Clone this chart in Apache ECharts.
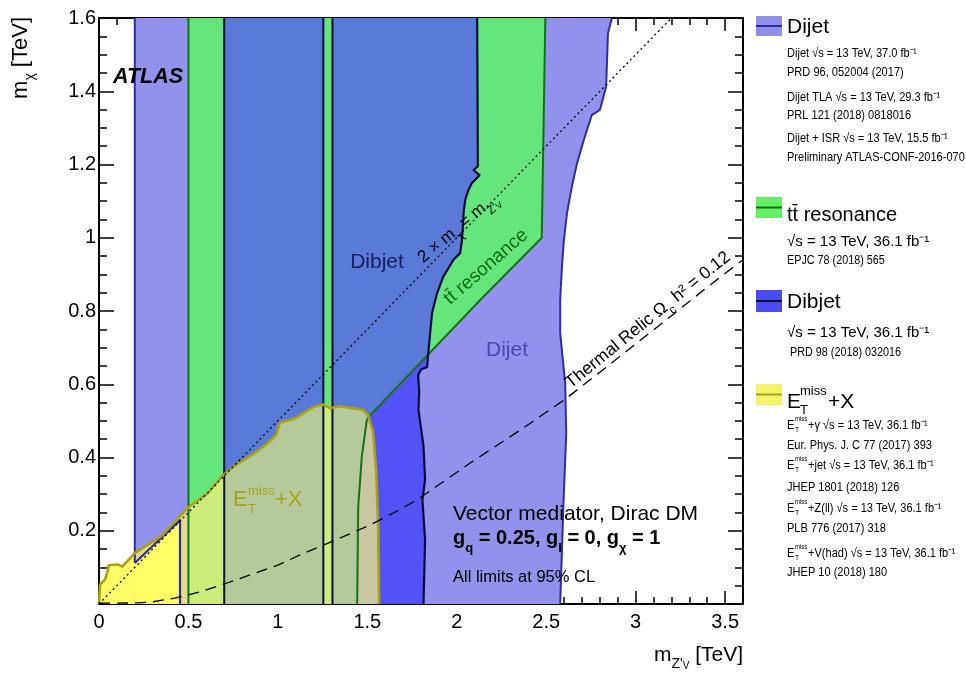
<!DOCTYPE html>
<html><head><meta charset="utf-8">
<script src="https://cdn.jsdelivr.net/npm/echarts@6/dist/echarts.min.js"></script>
<style>html,body{margin:0;padding:0;background:#fff}#c{width:966px;height:673px}</style>
</head><body><div id="c"></div>
<script>
// ---------------- data (TeV) ----------------
const xTickValues = [0, 0.5, 1, 1.5, 2, 2.5, 3, 3.5];
const xTickLabels = ['0', '0.5', '1', '1.5', '2', '2.5', '3', '3.5'];
const yTickValues = [0.2, 0.4, 0.6, 0.8, 1.0, 1.2, 1.4, 1.6];
const yTickLabels = ['0.2', '0.4', '0.6', '0.8', '1', '1.2', '1.4', '1.6'];

// Dijet (37 fb-1) excluded region, right boundary
const dijetRight = [[2.867,1.6],[2.845,1.558],[2.835,1.412],[2.80,1.349],[2.755,1.335],[2.71,1.267],[2.672,1.203],[2.643,1.139],[2.616,1.067],[2.598,0.99],[2.588,0.921],[2.578,0.83],[2.578,0.74],[2.606,0.603],[2.612,0.467],[2.597,0.284],[2.588,0.147],[2.578,0]];
const dijetMain = [[1.5,0],[1.5,1.6]].concat(dijetRight);
// Dijet + ISR / TLA strip
const dijetStrip = [[0.2,1.6],[0.5,1.6],[0.5,0],[0.453,0],[0.453,0.229],[0.21,0.111],[0.2,0.112]];
const dijetStripEdge = [[0.2,1.6],[0.2,0.112]];
const dijetTLA = [[0.2,0.112],[0.21,0.111],[0.453,0.229],[0.453,0]];
// ttbar resonance
const ttLeft = [[0.5,0],[0.5,1.6]];
const ttRight = [[2.495,1.6],[2.475,1.0],[2.131,0.83],[1.505,0.51],[1.497,0.502],[1.469,0.402],[1.449,0.265],[1.443,0]];
const ttRegion = ttLeft.concat(ttRight);
// Dibjet
const dibjetStrip = [[0.7,0],[0.7,1.6],[1.254,1.6],[1.254,0]];
const dibjetEdges = [[[0.7,0],[0.7,1.6]],[[1.254,0],[1.254,1.6]],[[1.305,0],[1.305,1.6]]];
const dibjetRight = [[2.114,1.6],[2.118,1.195],[2.094,1.185],[2.127,1.171],[2.084,1.149],[2.065,1.13],[2.047,1.103],[2.038,1.067],[2.034,1.03],[2.029,0.994],[2.019,0.958],[1.98,0.939],[1.924,0.893],[1.89,0.849],[1.862,0.795],[1.851,0.74],[1.834,0.647],[1.80,0.64],[1.784,0.625],[1.79,0.58],[1.786,0.53],[1.80,0.48],[1.814,0.43],[1.823,0.34],[1.808,0.284],[1.823,0.175],[1.814,0]];
const dibjetMain = [[1.305,0],[1.305,1.6]].concat(dibjetRight);
// MET + X
const etBoundary = [[0,0],[0.005,0.052],[0.035,0.068],[0.048,0.09],[0.055,0.106],[0.105,0.108],[0.13,0.102],[0.2,0.139],[0.35,0.186],[0.5,0.264],[0.61,0.303],[0.69,0.35],[0.76,0.378],[0.87,0.412],[0.945,0.44],[0.99,0.462],[1.01,0.494],[1.1,0.508],[1.2,0.538],[1.25,0.545],[1.29,0.535],[1.35,0.54],[1.475,0.53],[1.505,0.515],[1.533,0.467],[1.55,0.36],[1.56,0.22],[1.566,0]];
// reference curves
const diagonalLine = [[0,0],[3.2,1.6]];
const thermalRelic = [[0,0.002],[0.22,0.003],[0.3,0.006],[0.425,0.016],[0.574,0.034],[0.72,0.058],[0.872,0.084],[1.0,0.106],[1.124,0.134],[1.255,0.161],[1.385,0.188],[1.516,0.216],[1.645,0.248],[1.777,0.284],[2.075,0.385],[2.355,0.475],[2.6,0.557],[2.8,0.633],[3.0,0.71],[3.2,0.787],[3.4,0.865],[3.6,0.94]];

// ---------------- helpers ----------------
const F = '"Liberation Sans", Arial, Helvetica, sans-serif';
const C = {
  purple:'#9292EC', green:'#66E57A', med:'#5A7AD8', bright:'#5252F6',
  yellow:'#FFFF66', khaki:'#E3DC8C', ygreen:'#CDEC7C', ggreen:'#B5C99B', tan:'#C9C7A2',
  bDijet:'#2E2E9E', bTT:'#137313', bDib:'#0D0D3D', bET:'#ABA10F'
};
function yAt(poly, x) {
  for (let i = 1; i < poly.length; i++) {
    const a = poly[i-1], b = poly[i];
    if (x >= a[0] && x <= b[0]) {
      if (b[0] === a[0]) return Math.max(a[1], b[1]);
      return a[1] + (b[1]-a[1]) * (x-a[0])/(b[0]-a[0]);
    }
  }
  return 0;
}
function etSlice(a, b) {
  const pts = [[a,0],[a,yAt(etBoundary,a)]];
  etBoundary.forEach(p => { if (p[0] > a && p[0] < b) pts.push(p); });
  pts.push([b,yAt(etBoundary,b)],[b,0]);
  return pts;
}
function segInt(p1,p2,p3,p4){
  const d = (p2[0]-p1[0])*(p4[1]-p3[1]) - (p2[1]-p1[1])*(p4[0]-p3[0]);
  if (Math.abs(d) < 1e-12) return null;
  const t = ((p3[0]-p1[0])*(p4[1]-p3[1]) - (p3[1]-p1[1])*(p4[0]-p3[0]))/d;
  const u = ((p3[0]-p1[0])*(p2[1]-p1[1]) - (p3[1]-p1[1])*(p2[0]-p1[0]))/d;
  if (t>=0 && t<=1 && u>=0 && u<=1) return [p1[0]+t*(p2[0]-p1[0]), p1[1]+t*(p2[1]-p1[1])];
  return null;
}
// dibjet ∩ ttbar (overlap drawn in mixed colour)
let medRight = null;
for (let i = 1; i < dibjetRight.length && !medRight; i++) {
  for (let j = 1; j < ttRight.length; j++) {
    const P = segInt(dibjetRight[i-1], dibjetRight[i], ttRight[j-1], ttRight[j]);
    if (P) {
      medRight = [[1.305,0],[1.305,1.6]].concat(dibjetRight.slice(0,i), [P], ttRight.slice(j));
      break;
    }
  }
}
const tanRegion = ttRight.filter(p => p[0] <= 1.505).reverse().concat(etBoundary.filter(p => p[0] > 1.505));

let zc = 1;
function poly(pts, color) {
  return {type:'custom', coordinateSystem:'cartesian2d', xAxisIndex:0, yAxisIndex:0, z: zc++, silent:true, clip:true,
    data:[[0,0]],
    renderItem: (params, api) => ({type:'polygon', shape:{points: pts.map(p => api.coord(p))}, style:{fill: color, stroke: color, lineWidth:0.3}})
  };
}
function line(pts, color, width, type) {
  return {type:'line', xAxisIndex:0, yAxisIndex:0, data: pts, symbol:'none', showSymbol:false, silent:true, clip:true, z: 20 + zc++,
    lineStyle:{color, width, type: type || 'solid', cap:'butt', join:'round'}};
}
function lab(v, vals, labs) {
  for (let i = 0; i < vals.length; i++) if (Math.abs(v - vals[i]) < 1e-6) return labs[i];
  return '';
}

const series = [
  poly(dijetMain, C.purple),
  poly(dijetStrip, C.purple),
  poly(ttRegion, C.green),
  poly(dibjetMain, C.bright),
  poly(dibjetStrip, C.med),
  poly(medRight, C.med),
  poly(etSlice(0, 0.2), C.yellow),
  poly(etSlice(0.2, 0.5), C.khaki),
  poly(dijetTLA.concat([[0.2,0]]), C.yellow),
  poly(etSlice(0.5, 0.7), C.ygreen),
  poly(etSlice(0.7, 1.254), C.ggreen),
  poly(etSlice(1.254, 1.305), C.ygreen),
  poly(etSlice(1.305, 1.566), C.ggreen),
  poly(tanRegion, C.tan),
  line(dijetStripEdge, C.bDijet, 2),
  line(dijetTLA, C.bDijet, 2.2),
  line(dijetRight, C.bDijet, 2),
  line(ttLeft, C.bTT, 2),
  line(ttRight, C.bTT, 2)
];
dibjetEdges.forEach(e => series.push(line(e, C.bDib, 2)));
series.push(line(dibjetRight, C.bDib, 2.2));
series.push(line(etBoundary, C.bET, 2.6));
series.push(line(diagonalLine, '#000', 1.3, [2, 3]));
series.push(line(thermalRelic, '#000', 1.3, [11, 7]));

// ---------------- axes ----------------
const tickStyle = {color:'#000', width:1.5};
function xAx(pos, showLabel) {
  return {type:'value', position:pos, min:0, max:3.6, interval:0.5, gridIndex:0,
    axisLine:{show:true, onZero:false, lineStyle:{color:'#000', width:2}},
    axisTick:{show:true, inside:true, length:13, lineStyle:tickStyle},
    minorTick:{show:true, splitNumber:5, length:7, lineStyle:tickStyle},
    splitLine:{show:false}, minorSplitLine:{show:false},
    axisLabel:{show:showLabel, fontSize:20, color:'#000', fontFamily:F, margin:8, hideOverlap:false,
      formatter: v => lab(v, xTickValues, xTickLabels)}
  };
}
function yAx(pos, showLabel) {
  return {type:'value', position:pos, min:0, max:1.6, interval:0.2, gridIndex:0,
    axisLine:{show:true, onZero:false, lineStyle:{color:'#000', width:2}},
    axisTick:{show:true, inside:true, length:15, lineStyle:tickStyle},
    minorTick:{show:true, splitNumber:4, length:8, lineStyle:tickStyle},
    splitLine:{show:false}, minorSplitLine:{show:false},
    axisLabel:{show:showLabel, fontSize:20, color:'#000', fontFamily:F, margin:3, hideOverlap:false,
      formatter: v => lab(v, yTickValues, yTickLabels)}
  };
}

// ---------------- texts ----------------
function txt(x, y, text, o) {
  o = o || {};
  const st = {text, fill: o.color || '#000', font: o.font || ('16px ' + F),
    align: o.align || 'left', verticalAlign: o.va || 'middle',
    textAlign: o.align || 'left', textVerticalAlign: o.va || 'middle'};
  if (o.rich) st.rich = o.rich;
  const el = {type:'text', x, y, rotation: o.rot || 0, z: 100, silent: true, style: st};
  if (o.sx) el.scaleX = o.sx;
  return el;
}
function rs(size, extra) { return Object.assign({fontSize:size, fontFamily:F, fill:'#000'}, extra || {}); }
const deg = Math.PI / 180;
const NS = 0.85; // condensed legend text
const g = [];
// in-plot labels
g.push(txt(113, 77, 'ATLAS', {font:'italic bold 21.5px ' + F}));
g.push(txt(377, 262, 'Dibjet', {font:'21px ' + F, color:'#1C1C5C', align:'center'}));
g.push(txt(507, 350, 'Dijet', {font:'21px ' + F, color:'#4848B2', align:'center'}));
g.push(txt(486, 267, 'tt\u0304 resonance', {font:'19px ' + F, color:'#0E6E0E', align:'center', rot: 41*deg}));
g.push(txt(458, 228, '{m|2 × m}{s|χ}{m| = m}{s|Z\'}{ss|V}', {font:'17px ' + F, align:'center', rot: 40*deg,
  rich:{m: rs(17,{lineHeight:28}), s: rs(12,{verticalAlign:'bottom'}), ss: rs(9,{verticalAlign:'bottom'})}}));
g.push(txt(648, 320, '{m|Thermal Relic Ω}{s|c}{m| h² = 0.12}', {font:'17.5px ' + F, align:'center', rot: 39*deg,
  rich:{m: rs(17.5,{lineHeight:28}), s: rs(12,{verticalAlign:'bottom'})}}));
// E_T^miss + X
const olive = '#A9A214';
g.push(txt(233, 500, 'E', {font:'22px ' + F, color: olive}));
g.push(txt(248, 491, 'miss', {font:'13px ' + F, color: olive}));
g.push(txt(248, 509, 'T', {font:'13px ' + F, color: olive}));
g.push(txt(275, 500, '+X', {font:'22px ' + F, color: olive}));
// model box
g.push(txt(453, 514, 'Vector mediator, Dirac DM', {font:'21px ' + F}));
g.push(txt(453, 538, '{m|g}{s|q}{m| = 0.25, g}{s|l}{m| = 0, g}{s|χ}{m| = 1}', {font:'bold 20px ' + F,
  rich:{m: rs(20,{fontWeight:'bold', lineHeight:34}), s: rs(13,{fontWeight:'bold', verticalAlign:'bottom'})}}));
g.push(txt(453, 577, 'All limits at 95% CL', {font:'16.5px ' + F}));
// axis titles
g.push(txt(743, 655, '{m|m}{s|Z\'}{ss|V}{m| [TeV]}', {font:'21px ' + F, align:'right',
  rich:{m: rs(21,{lineHeight:32}), s: rs(14,{verticalAlign:'bottom'}), ss: rs(10,{verticalAlign:'bottom'})}}));
g.push(txt(21, 17, '{m|m}{s|χ}{m| [TeV]}', {font:'22px ' + F, align:'right', rot: 90*deg,
  rich:{m: rs(22,{lineHeight:32}), s: rs(14,{verticalAlign:'bottom'})}}));

// legend
function swatch(y0, h, fill, lc) {
  g.push({type:'rect', shape:{x:756, y:y0, width:26, height:h}, style:{fill}, z:90, silent:true});
  g.push({type:'line', shape:{x1:756, y1:y0+h/2, x2:782, y2:y0+h/2}, style:{stroke:lc, lineWidth:2}, z:91, silent:true});
}
swatch(16, 20, '#8F8FEA', '#2B2B9B');
g.push(txt(787, 27, 'Dijet', {font:'21px ' + F}));
const dijetLegendLines = ['Dijet √s = 13 TeV, 37.0 fb⁻¹','PRD 96, 052004 (2017)','Dijet TLA √s = 13 TeV, 29.3 fb⁻¹','PRL 121 (2018) 0818016','Dijet + ISR √s = 13 TeV, 15.5 fb⁻¹','Preliminary ATLAS-CONF-2016-070'];
const dijetLegendY = [53, 72, 97, 115, 138, 157];
dijetLegendLines.forEach((t, i) => g.push(txt(787, dijetLegendY[i], t, {font:'13px ' + F, sx: NS})));

swatch(197, 21, '#66EE66', '#137313');
g.push(txt(787, 215, 'tt\u0304 resonance', {font:'20px ' + F}));
g.push(txt(787, 242, '√s = 13 TeV, 36.1 fb⁻¹', {font:'15px ' + F}));
g.push(txt(787, 261, 'EPJC 78 (2018) 565', {font:'12px ' + F, sx: 0.9}));

swatch(290, 22, '#4B4BF2', '#0D0D3D');
g.push(txt(787, 302, 'Dibjet', {font:'21px ' + F}));
g.push(txt(787, 333, '√s = 13 TeV, 36.1 fb⁻¹', {font:'15px ' + F}));
g.push(txt(790, 353, 'PRD 98 (2018) 032016', {font:'12px ' + F, sx: 0.9}));

swatch(384, 21, '#F4F46C', '#A8A010');
g.push(txt(787, 402, 'E', {font:'21px ' + F}));
g.push(txt(800, 391, 'miss', {font:'13px ' + F}));
g.push(txt(800, 410, 'T', {font:'13px ' + F}));
g.push(txt(828, 402, '+X', {font:'21px ' + F}));
const etLegendTail = ['+γ √s = 13 TeV, 36.1 fb⁻¹','+jet √s = 13 TeV, 36.1 fb⁻¹','+Z(ll) √s = 13 TeV, 36.1 fb⁻¹','+V(had) √s = 13 TeV, 36.1 fb⁻¹'];
const etLegendY = [425, 465, 508, 553];
const etLegendRefs = ['Eur. Phys. J. C 77 (2017) 393','JHEP 1801 (2018) 126','PLB 776 (2017) 318','JHEP 10 (2018) 180'];
const etLegendRefY = [445, 487, 528, 572];
etLegendTail.forEach((t, i) => {
  const y = etLegendY[i];
  g.push(txt(787, y, 'E', {font:'13px ' + F, sx: NS}));
  g.push(txt(795, y - 6, 'miss', {font:'7px ' + F, sx: NS}));
  g.push(txt(795, y + 5, 'T', {font:'8px ' + F, sx: NS}));
  g.push(txt(808, y, t, {font:'13px ' + F, sx: NS}));
  g.push(txt(787, etLegendRefY[i], etLegendRefs[i], {font:'13px ' + F, sx: NS}));
});

const chart = echarts.init(document.getElementById('c'), null, {renderer:'canvas'});
chart.setOption({
  animation:false,
  backgroundColor:'#fff',
  grid:{left:99, right:223, top:18, bottom:69, containLabel:false},
  xAxis:[xAx('bottom', true), xAx('top', false)],
  yAxis:[yAx('left', true), yAx('right', false)],
  series,
  graphic:{elements: g}
});
</script></body></html>
